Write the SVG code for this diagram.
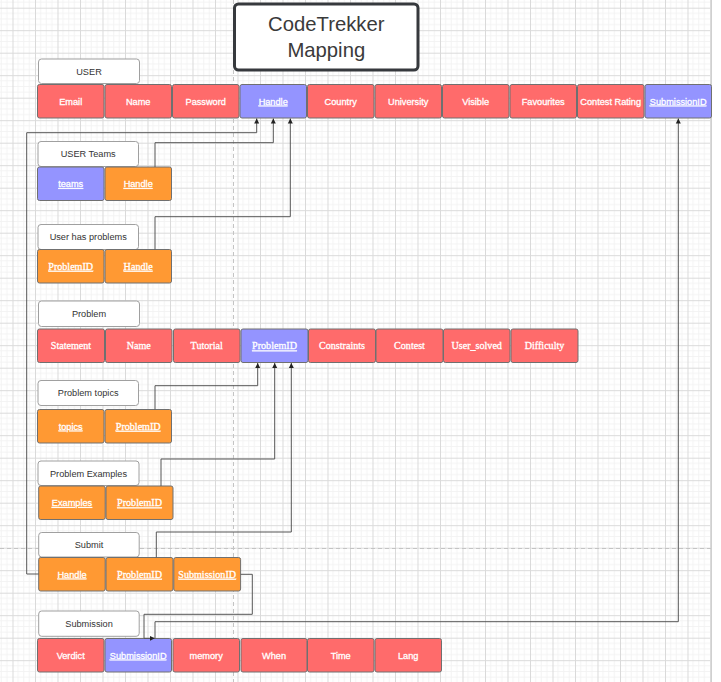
<svg xmlns="http://www.w3.org/2000/svg" width="721" height="682" viewBox="0 0 721 682">
<style>
.lbl{fill:#fff;stroke:#a0a0a0;stroke-width:1}
.lt{font-family:"Liberation Sans",Arial,sans-serif;font-size:9.2px;fill:#333;text-anchor:middle}
.r{fill:#FF6B6B;stroke:#707070;stroke-width:1}
.b{fill:#9494FF;stroke:#707070;stroke-width:1}
.o{fill:#FF9933;stroke:#707070;stroke-width:1}
.ct{font-family:"Liberation Sans",Arial,sans-serif;font-size:9.2px;fill:#fff;stroke:#fff;stroke-width:0.3px;text-anchor:middle}
.cs{font-family:"Liberation Serif","Times New Roman",serif;font-size:10.1px;fill:#fff;stroke:#fff;stroke-width:0.3px;text-anchor:middle}
.u{text-decoration:underline}
.e{fill:none;stroke:#555;stroke-width:1}
</style>
<defs>
<pattern id="grid" width="22.5" height="22.5" x="12.5" y="7.7" patternUnits="userSpaceOnUse">
<path d="M5.625 0V22.5M11.25 0V22.5M16.875 0V22.5M0 5.625H22.5M0 11.25H22.5M0 16.875H22.5" stroke="#f3f3f3" stroke-width="1" fill="none"/>
<path d="M0.5 0V22.5M0 0.5H22.5" stroke="#dadada" stroke-width="1" fill="none"/>
</pattern>
<marker id="ah" markerWidth="6" markerHeight="6" refX="5" refY="3" orient="auto" markerUnits="userSpaceOnUse">
<path d="M0 0.5L5 3L0 5.5Z" fill="#222"/>
</marker>
</defs>
<g id="background">
<rect x="0" y="0" width="721" height="682" fill="#fff"/>
<rect x="0" y="0" width="711" height="682" fill="url(#grid)"/>
<line x1="711.5" y1="0" x2="711.5" y2="682" stroke="#d0d0d0"/>
<line x1="233.5" y1="0" x2="233.5" y2="682" stroke="#c4c4c4" stroke-dasharray="4 3"/>
<line x1="0" y1="548.5" x2="711" y2="548.5" stroke="#c4c4c4" stroke-dasharray="4 3"/>
</g>
<g id="title">
<rect x="234.5" y="4" width="183.5" height="66" rx="4" fill="#fff" stroke="#36393d" stroke-width="3"/>
<text x="326.3" y="31.3" font-family="Liberation Sans,Arial,sans-serif" font-size="20.3" fill="#3a3a3a" text-anchor="middle">CodeTrekker</text>
<text x="326.3" y="57" font-family="Liberation Sans,Arial,sans-serif" font-size="20.3" fill="#3a3a3a" text-anchor="middle">Mapping</text>
</g>
<g id="user">
<rect class="lbl" x="38.5" y="59" width="101" height="24.5" rx="3"/>
<text class="lt" x="89" y="74.5">USER</text>
<rect class="r" x="37.5" y="84.5" width="66.5" height="33.5" rx="2"/><text class="ct" x="70.7" y="104.5">Email</text>
<rect class="r" x="105" y="84.5" width="66.5" height="33.5" rx="2"/><text class="ct" x="138.2" y="104.5">Name</text>
<rect class="r" x="172.5" y="84.5" width="66.5" height="33.5" rx="2"/><text class="ct" x="205.7" y="104.5">Password</text>
<rect class="b" x="240" y="84.5" width="66.5" height="33.5" rx="2"/><text class="ct u" x="273.2" y="104.5">Handle</text>
<rect class="r" x="307.5" y="84.5" width="66.5" height="33.5" rx="2"/><text class="ct" x="340.7" y="104.5">Country</text>
<rect class="r" x="375" y="84.5" width="66.5" height="33.5" rx="2"/><text class="ct" x="408.2" y="104.5">University</text>
<rect class="r" x="442.5" y="84.5" width="66.5" height="33.5" rx="2"/><text class="ct" x="475.7" y="104.5">Visible</text>
<rect class="r" x="510" y="84.5" width="66.5" height="33.5" rx="2"/><text class="ct" x="543.2" y="104.5">Favourites</text>
<rect class="r" x="577.5" y="84.5" width="66.5" height="33.5" rx="2"/><text class="ct" x="610.7" y="104.5">Contest Rating</text>
<rect class="b" x="645" y="84.5" width="66.5" height="33.5" rx="2"/><text class="ct u" x="678.2" y="104.5">SubmissionID</text>
</g>
<g id="user-teams">
<rect class="lbl" x="38" y="141.5" width="100.5" height="25" rx="3"/>
<text class="lt" x="88.2" y="157.3">USER Teams</text>
<rect class="b" x="37.5" y="167" width="66.5" height="33.5" rx="2"/><text class="ct u" x="70.7" y="187">teams</text>
<rect class="o" x="105" y="167" width="66.5" height="33.5" rx="2"/><text class="ct u" x="138.2" y="187">Handle</text>
</g>
<g id="user-has-problems">
<rect class="lbl" x="38" y="224.5" width="100.5" height="25" rx="3"/>
<text class="lt" x="88.2" y="240.3">User has problems</text>
<rect class="o" x="37.5" y="249.5" width="66.5" height="33.5" rx="2"/><text class="cs u" x="70.7" y="269.8">ProblemID</text>
<rect class="o" x="105" y="249.5" width="66.5" height="33.5" rx="2"/><text class="cs u" x="138.2" y="269.8">Handle</text>
</g>
<g id="problem">
<rect class="lbl" x="38.5" y="301" width="101" height="25.5" rx="3"/>
<text class="lt" x="89" y="317">Problem</text>
<rect class="r" x="37.5" y="329" width="67" height="33.5" rx="2"/><text class="cs" x="71" y="349.3">Statement</text>
<rect class="r" x="105.5" y="329" width="66.5" height="33.5" rx="2"/><text class="cs" x="138.7" y="349.3">Name</text>
<rect class="r" x="173.5" y="329" width="66.5" height="33.5" rx="2"/><text class="cs" x="206.7" y="349.3">Tutorial</text>
<rect class="b" x="241" y="329" width="67" height="33.5" rx="2"/><text class="cs u" x="274.5" y="349.3">ProblemID</text>
<rect class="r" x="308.5" y="329" width="67" height="33.5" rx="2"/><text class="cs" x="342" y="349.3">Constraints</text>
<rect class="r" x="376" y="329" width="67" height="33.5" rx="2"/><text class="cs" x="409.5" y="349.3">Contest</text>
<rect class="r" x="443.5" y="329" width="66.5" height="33.5" rx="2"/><text class="cs" x="476.7" y="349.3">User_solved</text>
<rect class="r" x="511" y="329" width="67" height="33.5" rx="2"/><text class="cs" x="544.5" y="349.3">Difficulty</text>
</g>
<g id="problem-topics">
<rect class="lbl" x="38" y="380.5" width="100.5" height="25" rx="3"/>
<text class="lt" x="88.2" y="396.3">Problem topics</text>
<rect class="o" x="37.5" y="409.5" width="66.5" height="33.5" rx="2"/><text class="ct u" x="70.7" y="429.5">topics</text>
<rect class="o" x="105" y="409.5" width="66.5" height="33.5" rx="2"/><text class="cs u" x="138.2" y="429.8">ProblemID</text>
</g>
<g id="problem-examples">
<rect class="lbl" x="38" y="461" width="101" height="24.5" rx="3"/>
<text class="lt" x="88.5" y="476.5">Problem Examples</text>
<rect class="o" x="38.7" y="486" width="66.5" height="33.5" rx="2"/><text class="ct u" x="72" y="506">Examples</text>
<rect class="o" x="106" y="486" width="67" height="33.5" rx="2"/><text class="cs u" x="139.5" y="506.3">ProblemID</text>
</g>
<g id="submit">
<rect class="lbl" x="38.7" y="532.5" width="100.5" height="24.5" rx="3"/>
<text class="lt" x="89" y="548">Submit</text>
<rect class="o" x="38.7" y="557.5" width="66.5" height="33.5" rx="2"/><text class="ct u" x="72" y="577.5">Handle</text>
<rect class="o" x="106" y="557.5" width="67" height="33.5" rx="2"/><text class="cs u" x="139.5" y="577.8">ProblemID</text>
<rect class="o" x="173.8" y="557.5" width="66.8" height="33.5" rx="2"/><text class="cs u" x="207.2" y="577.8">SubmissionID</text>
</g>
<g id="submission">
<rect class="lbl" x="38.7" y="611" width="100.5" height="25.3" rx="3"/>
<text class="lt" x="89" y="626.8">Submission</text>
<rect class="r" x="37.5" y="638.5" width="66.5" height="33.5" rx="2"/><text class="ct" x="70.7" y="658.5">Verdict</text>
<rect class="b" x="105" y="638.5" width="66.5" height="33.5" rx="2"/><text class="ct u" x="138.2" y="658.5">SubmissionID</text>
<rect class="r" x="173" y="638.5" width="66.5" height="33.5" rx="2"/><text class="ct" x="206.2" y="658.5">memory</text>
<rect class="r" x="241" y="638.5" width="66" height="33.5" rx="2"/><text class="ct" x="274" y="658.5">When</text>
<rect class="r" x="307.5" y="638.5" width="66.5" height="33.5" rx="2"/><text class="ct" x="340.7" y="658.5">Time</text>
<rect class="r" x="375" y="638.5" width="66.5" height="33.5" rx="2"/><text class="ct" x="408.2" y="658.5">Lang</text>
</g>
<g id="connectors">
<path class="e" d="M38.7 574H26.7V132.7H256.7V118.5" marker-end="url(#ah)"/>
<path class="e" d="M155 167V142.7H273.3V118.5" marker-end="url(#ah)"/>
<path class="e" d="M155 249.5V216.7H290.3V118.5" marker-end="url(#ah)"/>
<path class="e" d="M155 409.5V385.7H257.7V363" marker-end="url(#ah)"/>
<path class="e" d="M161 486V459H274.7V363" marker-end="url(#ah)"/>
<path class="e" d="M156.3 557.5V532H291.3V363" marker-end="url(#ah)"/>
<path class="e" d="M240.7 574.3H252.3V614.3H144V638.3H154.7" marker-end="url(#ah)"/>
<path class="e" d="M155 638.5V621.7H678.3V118.5" marker-end="url(#ah)"/>
</g>
</svg>
